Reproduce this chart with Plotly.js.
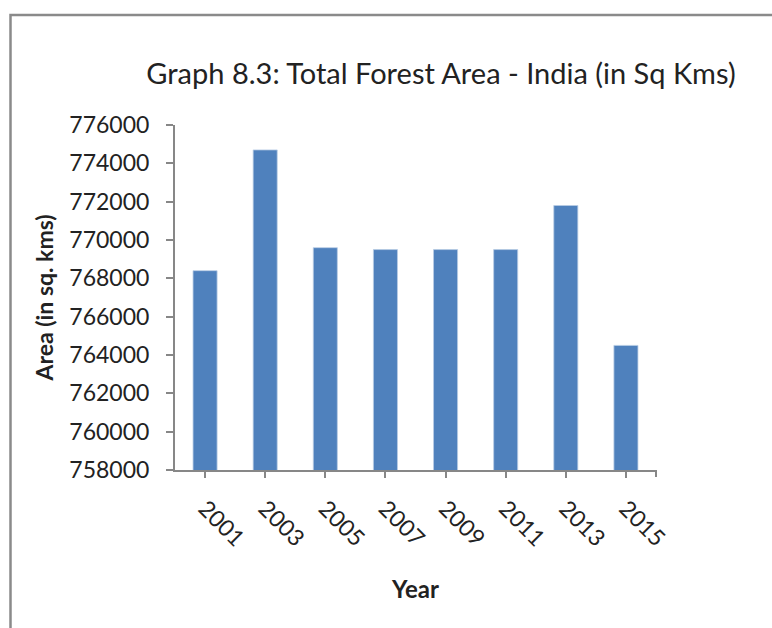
<!DOCTYPE html>
<html>
<head>
<meta charset="utf-8">
<script src="https://cdn.plot.ly/plotly-3.0.1.min.js"></script>
<style>
  html, body { margin: 0; padding: 0; background: #ffffff; }
  #chart { width: 772px; height: 628px; }
</style>
</head>
<body>
<div id="chart"></div>
<script>
const years = ["2001", "2003", "2005", "2007", "2009", "2011", "2013", "2015"];
const forestArea = [768400, 774700, 769600, 769500, 769500, 769500, 771800, 764500];
const yTicks = [758000, 760000, 762000, 764000, 766000, 768000, 770000, 772000, 774000, 776000];

const FONT = "Lato, 'Open Sans', sans-serif";
const AXIS_GRAY = "#878787";

const trace = {
  type: "bar",
  x: years,
  y: forestArea,
  width: 0.4,
  marker: { color: "#4f81bd", line: { color: "#b9cde5", width: 0.8 } },
  hoverinfo: "x+y"
};

const layout = {
  width: 772,
  height: 628,
  margin: { l: 175, r: 116, t: 125, b: 158 },
  paper_bgcolor: "#ffffff",
  plot_bgcolor: "#ffffff",
  showlegend: false,
  font: { family: FONT, color: "#222222" },
  title: {
    text: "Graph 8.3: Total Forest Area - India (in Sq Kms)",
    font: { family: FONT, size: 29, color: "#222222" },
    xref: "container", yref: "container",
    x: 441 / 772, xanchor: "center",
    y: 1 - 74 / 628, yanchor: "middle"
  },
  xaxis: {
    type: "category",
    tickangle: 45,
    tickfont: { family: FONT, size: 23, color: "#222222" },
    ticks: "outside",
    ticklen: 6,
    tickwidth: 2,
    tickcolor: AXIS_GRAY,
    showline: true,
    linecolor: AXIS_GRAY,
    linewidth: 2,
    showgrid: false,
    zeroline: false,
    ticklabelstandoff: 8,
    title: { text: "<b>Year</b>", font: { family: FONT, size: 24, color: "#222222" }, standoff: 31 },
    automargin: false
  },
  yaxis: {
    range: [758000, 776000],
    tickvals: yTicks,
    ticktext: yTicks.map(String),
    tickfont: { family: FONT, size: 23, color: "#222222" },
    ticks: "outside",
    ticklen: 7,
    tickwidth: 2,
    tickcolor: AXIS_GRAY,
    showline: true,
    linecolor: AXIS_GRAY,
    linewidth: 2,
    showgrid: false,
    zeroline: false,
    ticklabelstandoff: 12,
    title: { text: "<b>Area (in sq. kms)</b>", font: { family: FONT, size: 23, color: "#222222" }, standoff: 9 },
    automargin: false
  },
  shapes: [
    {
      type: "rect", xref: "paper", yref: "paper",
      x0: (10.5 - 175) / 481, x1: (800 - 175) / 481,
      y0: (470 - 680) / 345, y1: (470 - 15) / 345,
      line: { color: "#8a8a8a", width: 2.5 },
      fillcolor: "rgba(0,0,0,0)",
      layer: "below"
    },
    {
      type: "line", xref: "paper", yref: "paper",
      x0: 1, x1: 1, y0: 0, y1: -7 / 345,
      line: { color: AXIS_GRAY, width: 2 }
    }
  ]
};

Plotly.newPlot("chart", [trace], layout, { displayModeBar: false, staticPlot: true });
</script>
</body>
</html>
